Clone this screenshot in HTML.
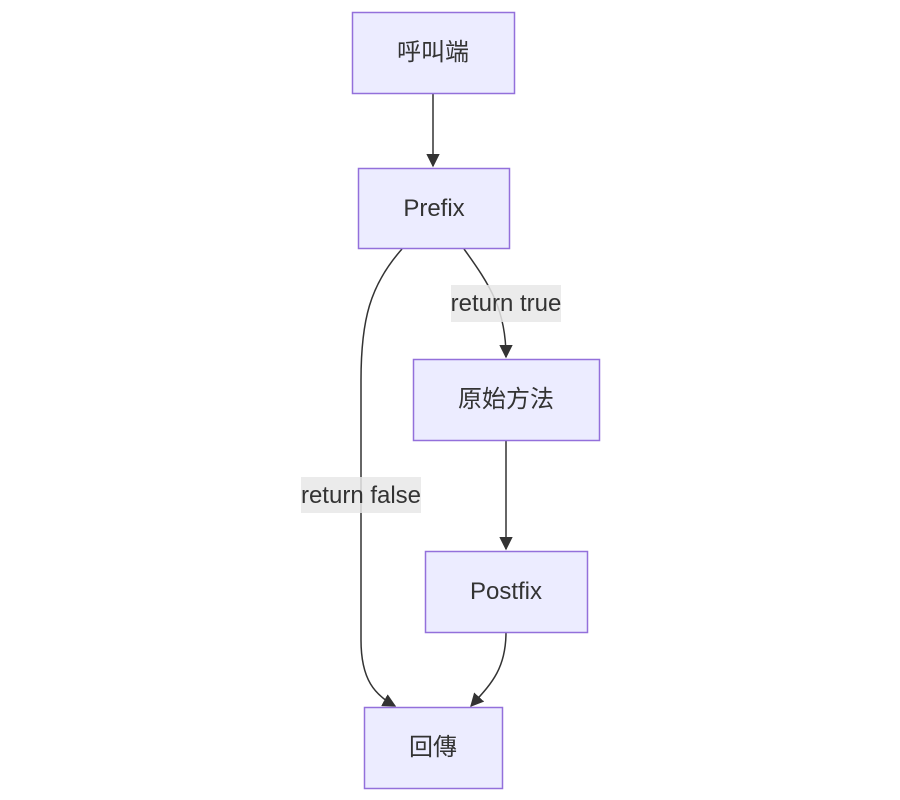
<!DOCTYPE html>
<html><head><meta charset="utf-8"><style>
html,body{margin:0;padding:0;background:#fff;width:900px;height:800px;overflow:hidden}
</style></head><body>
<svg width="900" height="800" xmlns="http://www.w3.org/2000/svg" style="font-family:'Liberation Sans','Noto Sans CJK TC',sans-serif">
<defs><marker id="a" viewBox="0 0 10 10" refX="9" refY="5" markerWidth="9" markerHeight="9" orient="auto"><path d="M0,0L10,5L0,10z" fill="#333"/></marker></defs>
<g fill="none" stroke="#333" stroke-width="1.5">
<path d="M433,93 L433,166" marker-end="url(#a)"/>
<path d="M464,249 C490,285 506,310 506,357" marker-end="url(#a)"/>
<path d="M402,249 C370,285 361,320 361,380 L361,640 C361,680 375,695 395,706" marker-end="url(#a)"/>
<path d="M506,632 C506,670 490,685 471,706" marker-end="url(#a)"/>
<path d="M506,440 L506,549" marker-end="url(#a)"/>
</g>
<g fill="#ECECFF" stroke="#9370DB" stroke-width="1.5">
<rect x="352.5" y="12.5" width="162" height="81"/>
<rect x="358.5" y="168.5" width="151" height="80"/>
<rect x="413.5" y="359.5" width="186" height="81"/>
<rect x="425.5" y="551.5" width="162" height="81"/>
<rect x="364.5" y="707.5" width="138" height="81"/>
</g>
<rect x="451" y="285" width="110" height="37" fill="#e8e8e8" opacity="0.85"/>
<rect x="301" y="477" width="120" height="36" fill="#e8e8e8" opacity="0.85"/>
<g font-size="24" fill="#333" text-anchor="middle">
<text x="433" y="60">呼叫端</text>
<text x="434" y="216">Prefix</text>
<text x="506" y="407">原始方法</text>
<text x="506" y="599">Postfix</text>
<text x="433" y="755">回傳</text>
<text x="506" y="311">return true</text>
<text x="361" y="503">return false</text>
</g>
</svg>
</body></html>
